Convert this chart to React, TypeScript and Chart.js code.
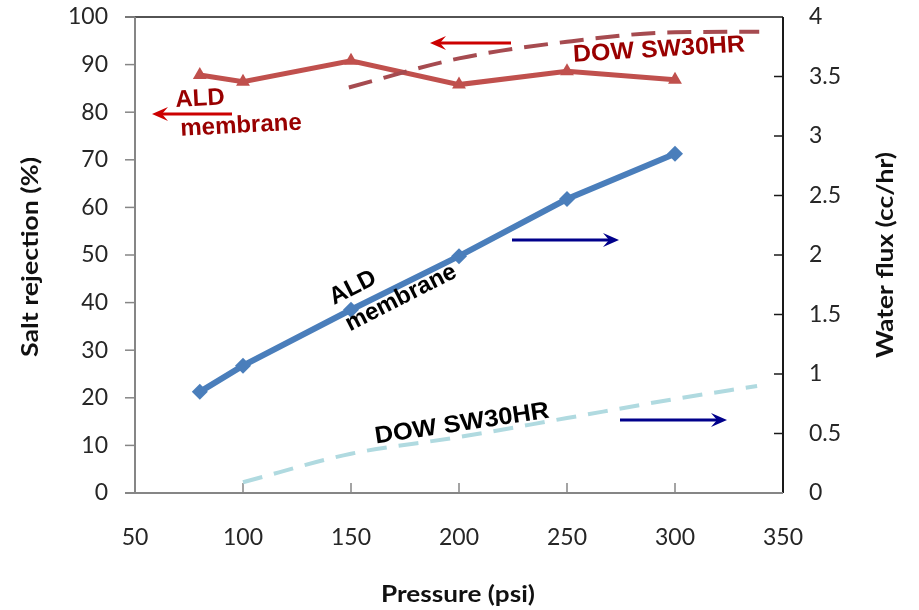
import React, { useEffect, useRef } from 'react';
import { Chart, registerables } from 'chart.js';

Chart.register(...registerables);

// ---- data ----
const pressure = [80, 100, 150, 200, 250, 300];
const aldRejection = [87.8, 86.4, 90.8, 85.8, 88.6, 86.8];
const aldFlux = [0.85, 1.07, 1.54, 1.99, 2.47, 2.85];
const dowRejPressure = [149, 200, 250, 300, 339];
const dowRejection = [85.2, 91.3, 94.8, 96.8, 96.9];
const dowFluxPressure = [100, 150, 200, 250, 300, 338];
const dowFlux = [0.09, 0.33, 0.47, 0.63, 0.79, 0.9];

const xTitle = 'Pressure (psi)';
const yTitle = 'Salt rejection (%)';
const y2Title = 'Water flux (cc/hr)';

const RED = '#C0504D';
const BLUE = '#4A7EBB';
const DOWRED = '#A64B50';
const LIGHTBLUE = '#B0DAE0';
const TEXTRED = '#990000';
const ARROWRED = '#CC0000';
const ARROWBLUE = '#00008B';

function drawArrow(ctx: CanvasRenderingContext2D, x1: number, y1: number, x2: number, y2: number, color: string, w: number) {
  const a = Math.atan2(y2 - y1, x2 - x1);
  const c = Math.cos(a), s = Math.sin(a);
  const hl = 16, hw = 7, notch = 10;
  ctx.save();
  ctx.strokeStyle = color;
  ctx.fillStyle = color;
  ctx.lineWidth = w;
  ctx.beginPath();
  ctx.moveTo(x1, y1);
  ctx.lineTo(x2 - c * notch, y2 - s * notch);
  ctx.stroke();
  ctx.beginPath();
  ctx.moveTo(x2, y2);
  ctx.lineTo(x2 - hl * c + hw * s, y2 - hl * s - hw * c);
  ctx.lineTo(x2 - notch * c, y2 - notch * s);
  ctx.lineTo(x2 - hl * c - hw * s, y2 - hl * s + hw * c);
  ctx.closePath();
  ctx.fill();
  ctx.restore();
}

function drawText(ctx: CanvasRenderingContext2D, str: string, cx: number, cy: number, deg: number, font: string, color: string, targetW?: number) {
  ctx.save();
  ctx.translate(cx, cy);
  ctx.rotate((deg * Math.PI) / 180);
  ctx.font = font;
  if (targetW) {
    const w = ctx.measureText(str).width;
    if (w > 0) ctx.scale(targetW / w, 1);
  }
  ctx.fillStyle = color;
  ctx.textAlign = 'center';
  ctx.textBaseline = 'middle';
  ctx.fillText(str, 0, 0);
  ctx.restore();
}

const framePlugin = {
  id: 'frame',
  beforeDatasetsDraw(chart: any) {
    const { ctx, chartArea } = chart;
    const { left, right, top, bottom } = chartArea;
    const ys = chart.scales.y;
    const y2s = chart.scales.y2;
    const xs = chart.scales.x;
    ctx.save();
    // top & right border (black)
    ctx.strokeStyle = '#1a1a1a';
    ctx.lineWidth = 1.5;
    ctx.beginPath();
    ctx.moveTo(left - 10, top);
    ctx.lineTo(right, top);
    ctx.stroke();
    ctx.lineWidth = 2;
    ctx.beginPath();
    ctx.moveTo(right, top);
    ctx.lineTo(right, bottom);
    ctx.stroke();
    // right ticks inward
    ctx.lineWidth = 1.5;
    for (let v = 0.5; v < 4; v += 0.5) {
      const p = y2s.getPixelForValue(v);
      ctx.beginPath();
      ctx.moveTo(right - 9, p);
      ctx.lineTo(right, p);
      ctx.stroke();
    }
    // left axis (gray)
    ctx.strokeStyle = '#868686';
    ctx.lineWidth = 2;
    ctx.beginPath();
    ctx.moveTo(left, top);
    ctx.lineTo(left, bottom);
    ctx.stroke();
    ctx.lineWidth = 1.5;
    for (let v = 0; v <= 100; v += 10) {
      const p = ys.getPixelForValue(v);
      ctx.beginPath();
      ctx.moveTo(left - 10, p);
      ctx.lineTo(left, p);
      ctx.stroke();
    }
    // bottom axis (gray)
    ctx.lineWidth = 2;
    ctx.beginPath();
    ctx.moveTo(left - 10, bottom);
    ctx.lineTo(right, bottom);
    ctx.stroke();
    ctx.lineWidth = 1.5;
    for (let v = 100; v <= 300; v += 50) {
      const p = xs.getPixelForValue(v);
      ctx.beginPath();
      ctx.moveTo(p, bottom);
      ctx.lineTo(p, bottom - 10);
      ctx.stroke();
    }
    ctx.restore();
  },
  afterDraw(chart: any) {
    const { ctx } = chart;
    const titleFont = 'bold 22px Lato';
    drawText(ctx, yTitle, 31, 257, -90, titleFont, '#111', 200);
    drawText(ctx, y2Title, 886, 255, -90, titleFont, '#111', 206);
    drawText(ctx, xTitle, 458, 595, 0, titleFont, '#111', 154);

    const annFont = 'bold 24px "Liberation Sans"';
    // red annotations
    drawText(ctx, 'ALD', 200, 99, -3, annFont, TEXTRED);
    drawText(ctx, 'membrane', 241, 126, -3, annFont, TEXTRED);
    drawText(ctx, 'DOW SW30HR', 659, 50, -3.5, annFont, TEXTRED, 172);
    drawArrow(ctx, 232, 114, 152, 114, ARROWRED, 3);
    drawArrow(ctx, 511, 43, 430, 43, ARROWRED, 3);
    // black annotations
    drawText(ctx, 'ALD', 353, 288, -27, annFont, '#000');
    drawText(ctx, 'membrane', 401, 298, -27, annFont, '#000');
    drawText(ctx, 'DOW SW30HR', 462, 424, -8.5, annFont, '#000', 176);
    drawArrow(ctx, 512, 240, 619, 240, ARROWBLUE, 3);
    drawArrow(ctx, 620, 420, 727, 420, ARROWBLUE, 3);
  },
};

export default function App() {
  const ref = useRef<HTMLCanvasElement | null>(null);
  useEffect(() => {
    if (!ref.current) return;
    const tickFont = { family: 'Lato', size: 23 };
    const tickColor = '#262626';
    const chart = new Chart(ref.current, {
      type: 'line',
      data: {
        datasets: [
          {
            label: 'DOW SW30HR flux',
            data: dowFluxPressure.map((x, i) => ({ x, y: dowFlux[i] })),
            yAxisID: 'y2',
            borderColor: LIGHTBLUE,
            borderWidth: 4,
            borderDash: [20, 12],
            pointRadius: 0,
            cubicInterpolationMode: 'monotone',
          },
          {
            label: 'DOW SW30HR rejection',
            data: dowRejPressure.map((x, i) => ({ x, y: dowRejection[i] })),
            yAxisID: 'y',
            borderColor: DOWRED,
            borderWidth: 4,
            borderDash: [24, 12],
            pointRadius: 0,
            cubicInterpolationMode: 'monotone',
          },
          {
            label: 'ALD rejection',
            data: pressure.map((x, i) => ({ x, y: aldRejection[i] })),
            yAxisID: 'y',
            borderColor: RED,
            backgroundColor: RED,
            borderWidth: 5,
            pointStyle: 'triangle',
            pointRadius: 8,
            pointBorderWidth: 0,
          },
          {
            label: 'ALD flux',
            data: pressure.map((x, i) => ({ x, y: aldFlux[i] })),
            yAxisID: 'y2',
            borderColor: BLUE,
            backgroundColor: BLUE,
            borderWidth: 6,
            pointStyle: 'rectRot',
            pointRadius: 8,
            pointBorderWidth: 0,
          },
        ],
      },
      options: {
        responsive: false,
        animation: false,
        events: [],
        layout: { padding: { top: 17, left: 0, right: 0, bottom: 0 } },
        plugins: { legend: { display: false }, tooltip: { enabled: false } },
        scales: {
          x: {
            type: 'linear',
            min: 50,
            max: 350,
            grid: { display: false, drawTicks: false },
            border: { display: false },
            ticks: { stepSize: 50, font: tickFont, color: tickColor, padding: 31, maxRotation: 0 },
            afterFit: (s: any) => { s.height = 117; s.paddingLeft = 0; s.paddingRight = 0; },
          },
          y: {
            type: 'linear',
            position: 'left',
            min: 0,
            max: 100,
            grid: { display: false, drawTicks: false },
            border: { display: false },
            ticks: { stepSize: 10, font: tickFont, color: tickColor, padding: 27 },
            afterFit: (s: any) => { s.width = 135; s.paddingTop = 0; s.paddingBottom = 0; },
          },
          y2: {
            type: 'linear',
            position: 'right',
            min: 0,
            max: 4,
            grid: { display: false, drawTicks: false },
            border: { display: false },
            ticks: { stepSize: 0.5, font: tickFont, color: tickColor, padding: 26, callback: (v: any) => String(v) },
            afterFit: (s: any) => { s.width = 136; s.paddingTop = 0; s.paddingBottom = 0; },
          },
        },
      },
      plugins: [framePlugin],
    } as any);
    return () => chart.destroy();
  }, []);
  return (
    <div style={{ position: 'fixed', left: 0, top: 0, width: 919, height: 610, background: '#fff' }}>
      <canvas ref={ref} width={919} height={610} />
    </div>
  );
}
